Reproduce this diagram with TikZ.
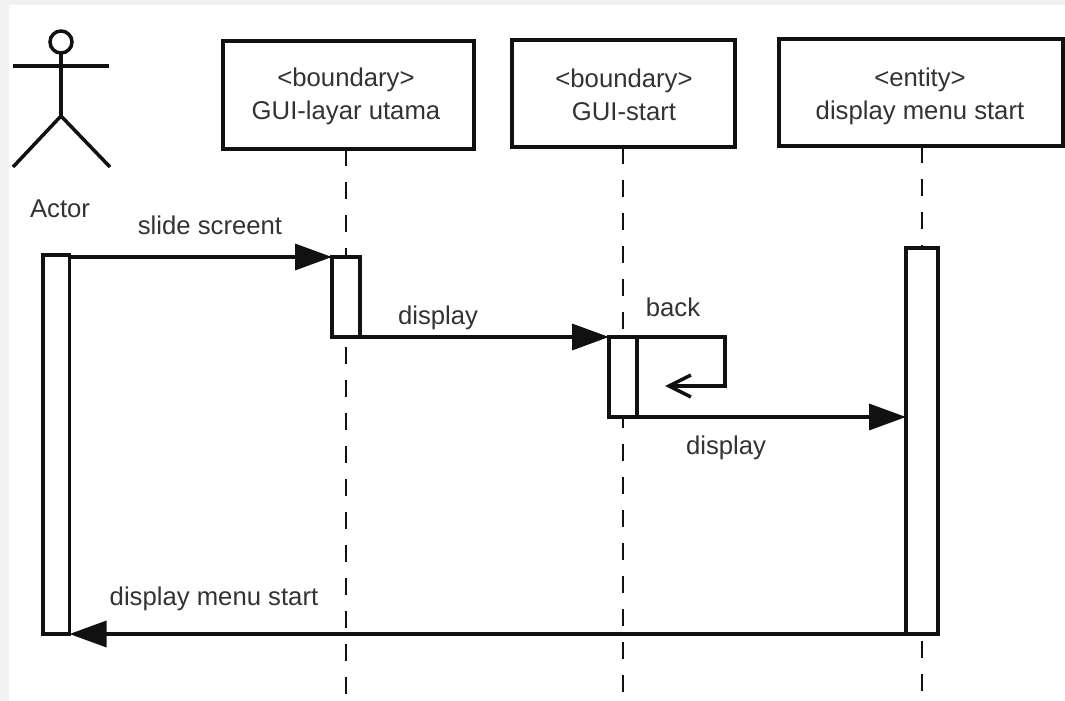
\documentclass[tikz,border=0pt]{standalone}
\usepackage{fontspec}
\setmainfont{Liberation Sans}
\usetikzlibrary{arrows.meta,calc}
\definecolor{ink}{HTML}{111111}
\definecolor{txt}{HTML}{333333}
\definecolor{edge}{HTML}{F1F1F1}
\tikzset{
  objbox/.style={draw=ink,line width=3.8pt,fill=white,anchor=north west,inner sep=0pt,outer sep=0pt},
  boxtext/.style={inner sep=0pt,outer sep=0pt,align=center,text=txt,font=\fontsize{25.7}{32.5}\selectfont},
  actbar/.style={draw=ink,line width=3.5pt,fill=white,anchor=north west,inner sep=0pt,outer sep=0pt},
  lifeline/.style={draw=ink,line width=2pt,dash pattern=on 17pt off 16pt},
  msg/.style={draw=ink,line width=3.5pt,-{Triangle[length=37pt,width=26pt]}},
  selfmsg/.style={draw=ink,line width=3.5pt,-{Straight Barb[length=22pt,width=22pt,line width=3.5pt]}},
  msglabel/.style={text=txt,font=\fontsize{25.7}{30}\selectfont,inner sep=0pt,outer sep=0pt},
  limb/.style={draw=ink,line width=3.5pt},
}
\begin{document}
\begin{tikzpicture}[x=1pt,y=-1pt]
\useasboundingbox (0,0) rectangle (1065,701);
\fill[edge] (0,0) rectangle (1065,701);
\fill[white] (9,5) rectangle (1065,701);
% objects
\node[objbox,minimum width=251pt,minimum height=108pt] (layar) at (223,41) {};
\node[objbox,minimum width=223pt,minimum height=107pt] (start) at (512,40) {};
\node[objbox,minimum width=284pt,minimum height=107pt] (menu) at (779,39) {};
\node[boxtext] (layarT) at (346,96.5) {<boundary>\\GUI-layar utama};
\node[boxtext] (startT) at (624,95) {<boundary>\\GUI-start};
\node[boxtext] (menuT) at (920,96.5) {<entity>\\display menu start};
% lifeline ends
\coordinate (endL) at (346,700);
\coordinate (endS) at (623,692);
\coordinate (endE) at (922,700);
\draw[lifeline] (endL |- layar.south) -- (endL);
\draw[lifeline] (endS |- start.south) -- (endS);
\draw[lifeline] (endE |- menu.south) -- (endE);
% actor
\node[draw=ink,line width=3.5pt,circle,minimum size=22pt,inner sep=0pt,outer sep=0pt] (head) at (61,42) {};
\coordinate (hip) at (61,116);
\coordinate (armL) at (13,66);
\coordinate (armR) at (109,66);
\coordinate (footL) at (13,167);
\coordinate (footR) at (110,167);
\draw[limb] (head.south) -- (hip);
\draw[limb] (armL) -- (armR);
\draw[limb] (footL) -- (hip) -- (footR);
\node[msglabel] (actor) at (60,209) {Actor};
% activations
\node[actbar,minimum width=26.5pt,minimum height=379pt] (barA) at (43,255) {};
\node[actbar,minimum width=28pt,minimum height=80pt] (barL) at (332,257) {};
\node[actbar,minimum width=28pt,minimum height=80pt] (barS) at (609,337) {};
\node[actbar,minimum width=32pt,minimum height=386pt] (barE) at (906,248) {};
% messages
\draw[msg] (barA.east |- barL.north) -- (barL.north west);
\draw[msg] (barL.south east) -- (barS.north west);
\draw[msg] (barS.south east) -- (barE.west |- barS.south);
\draw[msg] (barE.south west) -- (barA.south east);
\coordinate (selfA) at (725,337);
\coordinate (selfB) at (725,386);
\coordinate (selfC) at (665,386);
\draw[selfmsg] (barS.north east) -- (selfA) -- (selfB) -- (selfC);
% labels
\node[msglabel] (m1) at (210,225) {slide screent};
\node[msglabel] (m2) at (438,318) {display};
\node[msglabel] (m3) at (673,307) {back};
\node[msglabel] (m4) at (726,448) {display};
\node[msglabel] (m5) at (214,599) {display menu start};
\end{tikzpicture}
\end{document}
